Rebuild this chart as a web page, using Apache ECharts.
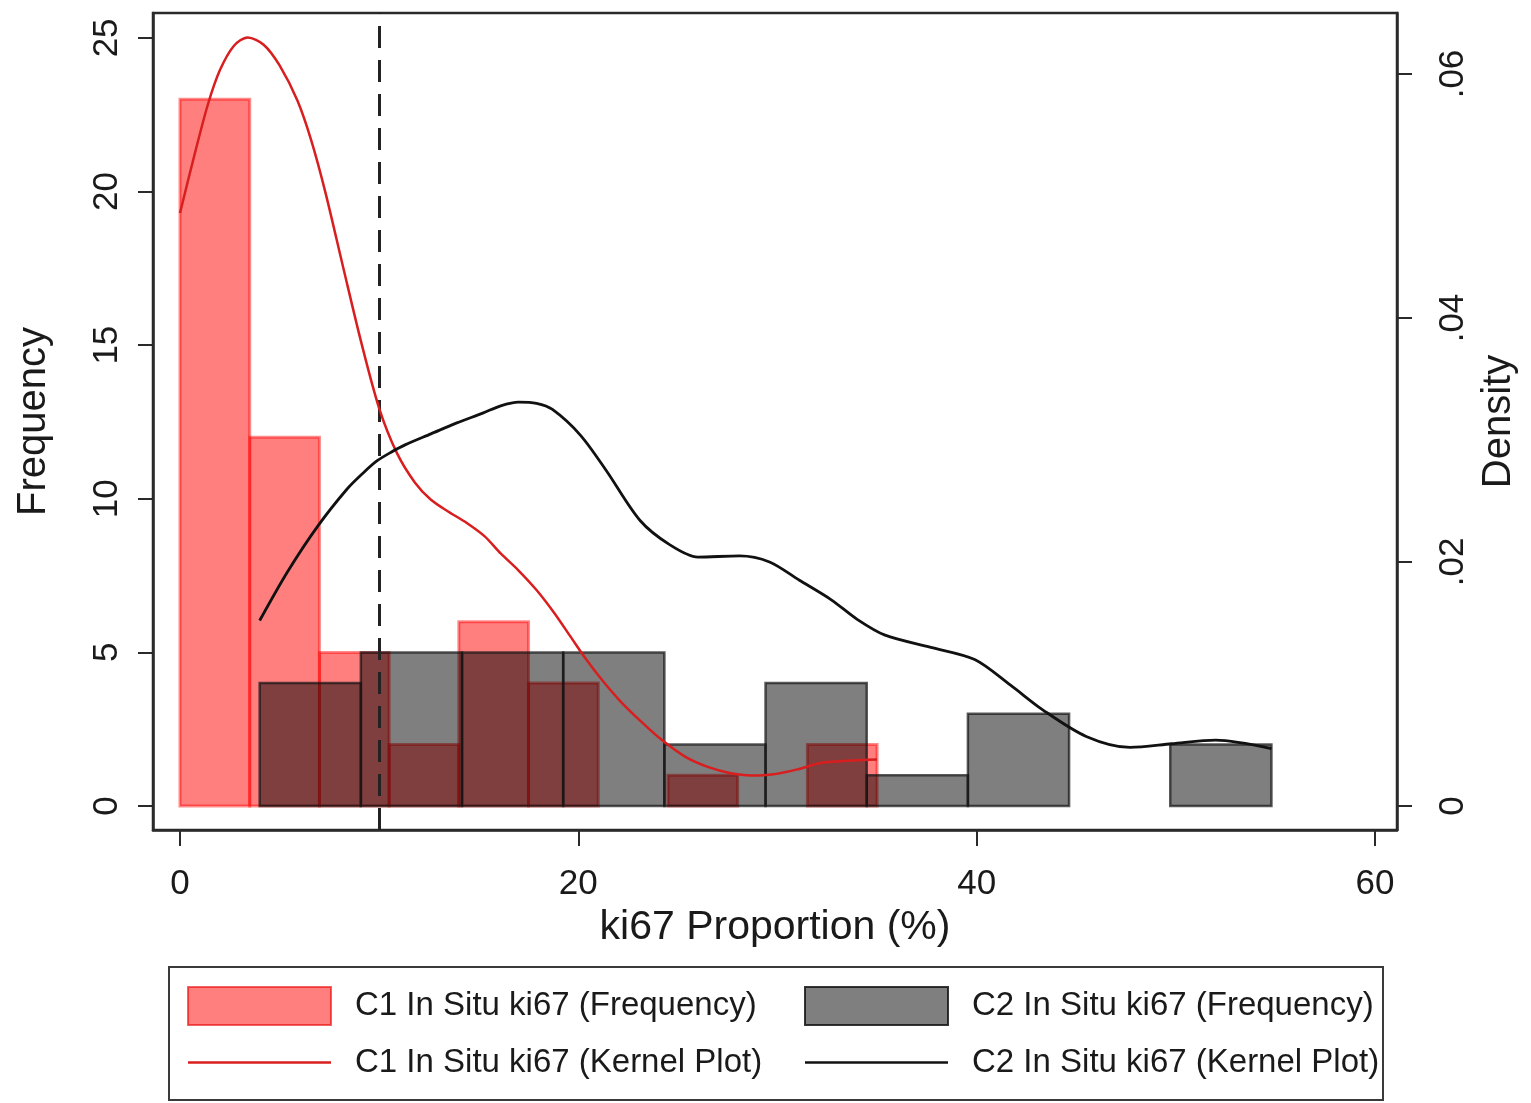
<!DOCTYPE html>
<html>
<head>
<meta charset="utf-8">
<script src="https://cdn.jsdelivr.net/npm/echarts@6/dist/echarts.min.js"></script>
<style>
html,body{margin:0;padding:0;background:#fff;}
#chart{width:1531px;height:1103px;}
</style>
</head>
<body>
<div id="chart"></div>
<script>
// ---- Data ----
const redBinLeft  = [0, 3.5, 7, 10.5, 14, 17.5, 21, 24.5, 28, 31.5];
const redBinRight = [3.5, 7, 10.5, 14, 17.5, 21, 24.5, 28, 31.5, 35];
const redCounts   = [23, 12, 5, 2, 6, 4, 0, 1, 0, 2];

const grayBinLeft  = [4, 9.08, 14.16, 19.24, 24.32, 29.4, 34.48, 39.56, 44.64, 49.72];
const grayBinRight = [9.08, 14.16, 19.24, 24.32, 29.4, 34.48, 39.56, 44.64, 49.72, 54.8];
const grayCounts   = [4, 5, 5, 5, 2, 4, 1, 3, 0, 2];

const redKernelX = [0, 0.7, 1.4, 2.0, 2.7, 3.4, 4.2, 5.0, 5.9, 6.6, 7.3, 8.2, 9.1, 10.0, 10.9, 11.8, 12.6, 13.5, 14.4, 15.3, 16.1, 17.0, 17.9, 18.8, 19.6, 20.4, 21.2, 22.1, 23.1, 24.2, 25.4, 26.5, 27.6, 28.7, 29.8, 31.0, 32.1, 33.5, 35.0];
const redKernelY = [0.0486, 0.0532, 0.0575, 0.0603, 0.0623, 0.0630, 0.0624, 0.0607, 0.0578, 0.0545, 0.0503, 0.0441, 0.0380, 0.0326, 0.0289, 0.0265, 0.0251, 0.0241, 0.0232, 0.0221, 0.0207, 0.0193, 0.0177, 0.0158, 0.0139, 0.0120, 0.0103, 0.0086, 0.0070, 0.0054, 0.0040, 0.0032, 0.0027, 0.0025, 0.0026, 0.0030, 0.0035, 0.0037, 0.0038];

const blackKernelX = [4.0, 5.4, 6.9, 8.4, 9.2, 9.9, 10.6, 11.3, 12.6, 13.9, 15.2, 16.1, 17.0, 17.9, 18.7, 20.1, 21.4, 23.1, 24.6, 26.0, 28.1, 29.6, 31.1, 32.7, 34.0, 35.4, 37.7, 39.9, 41.7, 43.3, 45.5, 47.7, 49.8, 52.0, 54.8];
const blackKernelY = [0.0152, 0.0192, 0.0229, 0.0260, 0.0273, 0.0283, 0.0290, 0.0296, 0.0305, 0.0314, 0.0322, 0.0328, 0.0331, 0.0330, 0.0325, 0.0304, 0.0275, 0.0234, 0.0214, 0.0204, 0.0205, 0.0200, 0.0185, 0.0169, 0.0153, 0.0140, 0.0130, 0.0120, 0.0099, 0.0079, 0.0057, 0.0048, 0.0051, 0.0054, 0.0047];

const xTicks = [0, 20, 40, 60];
const freqTicks = [0, 5, 10, 15, 20, 25];
const densTicks = [0, 0.02, 0.04, 0.06];
const cutoff = 10;

const seriesNames = ['C1 In Situ ki67 (Frequency)', 'C2 In Situ ki67 (Frequency)', 'C1 In Situ ki67 (Kernel Plot)', 'C2 In Situ ki67 (Kernel Plot)'];

// ---- Build ----
const FONT = 'Liberation Sans, Arial, Helvetica, sans-serif';
const redBarData = redCounts.map((c, i) => [redBinLeft[i], redBinRight[i], c]);
const grayBarData = grayCounts.map((c, i) => [grayBinLeft[i], grayBinRight[i], c]);
const redLine = redKernelX.map((x, i) => [x, redKernelY[i]]);
const blackLine = blackKernelX.map((x, i) => [x, blackKernelY[i]]);

function histRender(fill, stroke, lw) {
  return function (params, api) {
    const c = api.value(2);
    if (!c) return null;
    const p0 = api.coord([api.value(0), c]);
    const p1 = api.coord([api.value(1), 0]);
    return {
      type: 'rect',
      shape: { x: p0[0], y: p0[1], width: p1[0] - p0[0], height: p1[1] - p0[1] },
      style: { fill: fill, stroke: stroke, lineWidth: lw }
    };
  };
}

const RED_LINE = '#d81e1e';
const BLACK_LINE = '#111111';
const lineIcon = 'path://M0,0L143,0L143,2.6L0,2.6Z';

const chart = echarts.init(document.getElementById('chart'), null, { renderer: 'canvas' });
const axisLineStyle = { color: '#2a2a2a', width: 2.5 };
const legendText = { fontSize: 33, color: '#1a1a1a', fontFamily: FONT, padding: [0, 0, 0, 19] };
const option = {
  backgroundColor: '#ffffff',
  animation: false,
  textStyle: { fontFamily: FONT },
  grid: { left: 153, right: 134, top: 13, bottom: 273, show: true, borderColor: '#2a2a2a', borderWidth: 2.5, backgroundColor: 'transparent' },
  xAxis: {
    type: 'value', min: -1.356, max: 61.105,
    name: 'ki67 Proportion (%)', nameLocation: 'middle', nameGap: 64,
    nameTextStyle: { fontSize: 41, color: '#1a1a1a', fontFamily: FONT },
    axisLine: { show: true, onZero: false, lineStyle: axisLineStyle },
    axisTick: { show: true, length: 16, lineStyle: { color: '#2a2a2a', width: 2 }, customValues: xTicks },
    axisLabel: { fontSize: 35, color: '#1a1a1a', margin: 37, customValues: xTicks, fontFamily: FONT },
    splitLine: { show: false }
  },
  yAxis: [
    {
      type: 'value', position: 'left', min: -0.781, max: 25.81,
      name: 'Frequency', nameLocation: 'middle', nameGap: 99, nameRotate: 90,
      nameTextStyle: { fontSize: 40, color: '#1a1a1a', fontFamily: FONT },
      axisLine: { show: true, onZero: false, lineStyle: axisLineStyle },
      axisTick: { show: true, length: 15, lineStyle: { color: '#2a2a2a', width: 2 }, customValues: freqTicks },
      axisLabel: { fontSize: 35, color: '#1a1a1a', margin: 28, rotate: 90, customValues: freqTicks, fontFamily: FONT },
      splitLine: { show: false }
    },
    {
      type: 'value', position: 'right', min: -0.00197, max: 0.0650,
      name: 'Density', nameLocation: 'middle', nameGap: 72, nameRotate: 90,
      nameTextStyle: { fontSize: 40, color: '#1a1a1a', fontFamily: FONT },
      axisLine: { show: true, onZero: false, lineStyle: axisLineStyle },
      axisTick: { show: true, length: 15, lineStyle: { color: '#2a2a2a', width: 2 }, customValues: densTicks },
      axisLabel: {
        fontSize: 35, color: '#1a1a1a', margin: 39, rotate: 90, customValues: densTicks, fontFamily: FONT,
        formatter: v => (Math.abs(v) < 1e-9 ? '0' : String(+v.toFixed(2)).replace(/^0\./, '.'))
      },
      splitLine: { show: false }
    }
  ],
  legend: [
    {
      orient: 'vertical', left: 187, top: 986, padding: 0, itemWidth: 143, itemHeight: 38, itemGap: 20,
      selectedMode: false, symbolKeepAspect: true,
      textStyle: legendText,
      data: [
        { name: seriesNames[0], icon: 'rect', itemStyle: { color: 'rgba(255,0,0,0.5)', borderColor: 'rgba(230,0,0,0.6)', borderWidth: 2 } },
        { name: seriesNames[2], icon: lineIcon, itemStyle: { color: RED_LINE, borderWidth: 0 } }
      ]
    },
    {
      orient: 'vertical', left: 804, top: 986, padding: 0, itemWidth: 143, itemHeight: 38, itemGap: 20,
      selectedMode: false, symbolKeepAspect: true,
      textStyle: legendText,
      data: [
        { name: seriesNames[1], icon: 'rect', itemStyle: { color: 'rgba(0,0,0,0.5)', borderColor: 'rgba(20,20,20,0.85)', borderWidth: 2 } },
        { name: seriesNames[3], icon: lineIcon, itemStyle: { color: BLACK_LINE, borderWidth: 0 } }
      ]
    }
  ],
  graphic: [
    { type: 'rect', shape: { x: 169, y: 967, width: 1214, height: 133 }, style: { fill: 'none', stroke: '#3a3a3a', lineWidth: 2 }, z: 10 }
  ],
  series: [
    {
      name: seriesNames[0], type: 'custom', xAxisIndex: 0, yAxisIndex: 0,
      renderItem: histRender('rgba(255,0,0,0.5)', 'rgba(255,0,0,0.45)', 3),
      itemStyle: { color: 'rgba(255,0,0,0.5)' },
      encode: { x: [0, 1], y: 2 }, data: redBarData, z: 2
    },
    {
      name: seriesNames[1], type: 'custom', xAxisIndex: 0, yAxisIndex: 0,
      renderItem: histRender('rgba(0,0,0,0.5)', 'rgba(20,20,20,0.7)', 2.5),
      itemStyle: { color: 'rgba(0,0,0,0.5)' },
      encode: { x: [0, 1], y: 2 }, data: grayBarData, z: 3
    },
    {
      name: seriesNames[2], type: 'line', xAxisIndex: 0, yAxisIndex: 1,
      data: redLine, smooth: 0.3, symbol: 'none', showSymbol: false,
      lineStyle: { color: RED_LINE, width: 2.5 }, itemStyle: { color: RED_LINE }, z: 5
    },
    {
      name: seriesNames[3], type: 'line', xAxisIndex: 0, yAxisIndex: 1,
      data: blackLine, smooth: 0.3, symbol: 'none', showSymbol: false,
      lineStyle: { color: BLACK_LINE, width: 2.8 }, itemStyle: { color: BLACK_LINE }, z: 6,
      markLine: {
        silent: true, symbol: ['none', 'none'], label: { show: false },
        lineStyle: { color: '#222222', width: 3, type: [22, 12] },
        data: [{ xAxis: cutoff }]
      }
    }
  ]
};
chart.setOption(option);
</script>
</body>
</html>
